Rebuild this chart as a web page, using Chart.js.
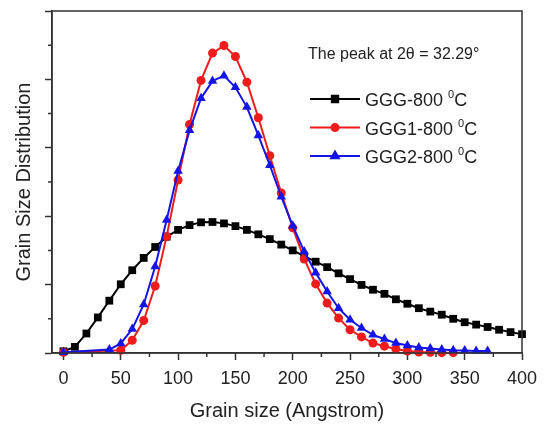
<!DOCTYPE html>
<html>
<head>
<meta charset="utf-8">
<script src="https://cdn.jsdelivr.net/npm/chart.js@4.4.1/dist/chart.umd.min.js"></script>
<style>
  html, body { margin: 0; padding: 0; background: #fff; }
  #wrap { width: 548px; height: 425px; }
</style>
</head>
<body>
<div id="wrap"><canvas id="chart"></canvas></div>
<script>
// grain size (Angstrom) and distribution values
const blackX = [0, 10, 20, 30, 40, 50, 60, 70, 80, 90, 100, 110, 120, 130, 140, 150, 160, 170, 180, 190, 200,
  210, 220, 230, 240, 250, 260, 270, 280, 290, 300, 310, 320, 330, 340, 350, 360, 370, 380, 390, 400];
const blackY = [0.05, 0.18, 0.57, 1.04, 1.53, 2.01, 2.42, 2.78, 3.1, 3.4, 3.6, 3.74, 3.82, 3.83, 3.79, 3.71, 3.6, 3.47, 3.33, 3.17, 3.0,
  2.83, 2.67, 2.51, 2.33, 2.16, 1.99, 1.85, 1.73, 1.57, 1.44, 1.31, 1.21, 1.12, 1.0, 0.9, 0.83, 0.76, 0.68, 0.61, 0.55];

const redX = [0, 50, 60, 70, 80, 90, 100, 110, 120, 130, 140, 150, 160, 170, 180, 190, 200,
  210, 220, 230, 240, 250, 260, 270, 280, 290, 300, 310, 320, 330, 340];
const redY = [0.02, 0.08, 0.37, 0.95, 1.96, 3.41, 5.06, 6.68, 7.97, 8.77, 8.99, 8.67, 7.92, 6.88, 5.77, 4.68, 3.66,
  2.75, 2.02, 1.46, 1.02, 0.68, 0.47, 0.29, 0.2, 0.12, 0.06, 0.03, 0.02, 0.01, 0.01];

const blueX = [0, 40, 50, 60, 70, 80, 90, 100, 110, 120, 130, 140, 150, 160, 170, 180, 190, 200,
  210, 220, 230, 240, 250, 260, 270, 280, 290, 300, 310, 320, 330, 340, 350, 360, 370];
const blueY = [0.02, 0.1, 0.28, 0.7, 1.42, 2.53, 3.89, 5.32, 6.51, 7.45, 7.95, 8.11, 7.77, 7.19, 6.36, 5.49, 4.57, 3.72,
  2.97, 2.35, 1.8, 1.31, 0.97, 0.73, 0.53, 0.41, 0.29, 0.22, 0.16, 0.13, 0.1, 0.08, 0.07, 0.06, 0.06];

const seriesNames = ["GGG-800", "GGG1-800", "GGG2-800"];
const tempSup = "0";
const tempUnit = "C";
const peakNote = "The peak at 2\u03B8 = 32.29\u00B0";

const xMinorTicks = [25, 75, 125, 175, 225, 275, 325, 375];
const yMinorTicks = [1, 3, 5, 7, 9];

const FONT = "'Liberation Sans', Arial, sans-serif";
const AXIS = "#333";

function pts(xs, ys) {
  return xs.map(function (x, i) { return { x: x, y: ys[i] }; });
}

// frame, minor ticks, note and legend
const extras = {
  id: "extras",
  afterDraw: function (chart) {
    const ctx = chart.ctx;
    const a = chart.chartArea;
    const xs = chart.scales.x;
    const ys = chart.scales.y;
    ctx.save();
    ctx.strokeStyle = AXIS;
    ctx.lineWidth = 1.5;
    ctx.strokeRect(a.left, a.top, a.right - a.left, a.bottom - a.top);

    ctx.beginPath();
    xMinorTicks.forEach(function (v) {
      const px = xs.getPixelForValue(v);
      ctx.moveTo(px, a.bottom);
      ctx.lineTo(px, a.bottom + 4);
    });
    yMinorTicks.forEach(function (v) {
      const py = ys.getPixelForValue(v);
      ctx.moveTo(a.left, py);
      ctx.lineTo(a.left - 4, py);
    });
    ctx.stroke();

    ctx.fillStyle = "#222";
    ctx.textBaseline = "alphabetic";
    ctx.font = "16px " + FONT;
    ctx.fillText(peakNote, a.left + 256, a.top + 48);

    chart.data.datasets.forEach(function (ds, i) {
      const cy = a.top + 88 + i * 28.5;
      const lx = a.left + 258;
      ctx.strokeStyle = ds.borderColor;
      ctx.lineWidth = 2;
      ctx.beginPath();
      ctx.moveTo(lx, cy);
      ctx.lineTo(lx + 50, cy);
      ctx.stroke();
      ctx.fillStyle = ds.borderColor;
      Chart.helpers.drawPoint(ctx, {
        pointStyle: ds.pointStyle,
        radius: ds.pointRadius - 1,
        rotation: 0,
        borderWidth: 1
      }, lx + 25, cy);

      ctx.fillStyle = "#222";
      ctx.font = "18px " + FONT;
      let tx = lx + 55;
      const base = cy + 7;
      const name = seriesNames[i] + " ";
      ctx.fillText(name, tx, base);
      tx += ctx.measureText(name).width;
      ctx.font = "11px " + FONT;
      ctx.fillText(tempSup, tx, base - 8);
      tx += ctx.measureText(tempSup).width;
      ctx.font = "18px " + FONT;
      ctx.fillText(tempUnit, tx, base);
    });
    ctx.restore();
  }
};

const ctx = document.getElementById("chart").getContext("2d");
const myChart = new Chart(ctx, {
  type: "line",
  data: {
    datasets: [
      {
        label: seriesNames[0],
        data: pts(blackX, blackY),
        borderColor: "#000000",
        backgroundColor: "#000000",
        borderWidth: 2,
        pointStyle: "rect",
        pointRadius: 5.5,
        pointBorderWidth: 0,
        order: 3,
        clip: false,
      },
      {
        label: seriesNames[1],
        data: pts(redX, redY),
        borderColor: "#ee1c1c",
        backgroundColor: "#ee1c1c",
        borderWidth: 2,
        pointStyle: "circle",
        pointRadius: 4.5,
        pointBorderWidth: 0,
        order: 2,
        clip: false,
      },
      {
        label: seriesNames[2],
        data: pts(blueX, blueY),
        borderColor: "#1414e6",
        backgroundColor: "#1414e6",
        borderWidth: 2,
        pointStyle: "triangle",
        pointRadius: 5.5,
        pointBorderWidth: 0,
        order: 1,
        clip: false,
      },
    ],
  },
  options: {
    responsive: true,
    maintainAspectRatio: false,
    animation: false,
    layout: {
      padding: { left: 0, right: 26, top: 11, bottom: 0 }
    },
    plugins: {
      legend: { display: false },
      tooltip: { enabled: false }
    },
    elements: {
      line: { tension: 0 }
    },
    scales: {
      x: {
        type: "linear",
        min: -10,
        max: 400,
        afterFit: function (s) { s.height = 72; },
        ticks: {
          stepSize: 50,
          includeBounds: false,
          color: "#222",
          padding: 8,
          font: { size: 18, family: FONT },
        },
        grid: {
          drawOnChartArea: false,
          tickLength: 7,
          tickWidth: 1.5,
          tickColor: AXIS,
        },
        border: { color: AXIS, width: 1.5 },
        title: {
          display: true,
          text: "Grain size (Angstrom)",
          color: "#222",
          font: { size: 20, family: FONT },
          padding: { top: 0, bottom: 2 },
        },
      },
      y: {
        min: 0,
        max: 10,
        afterFit: function (s) { s.width = 52; },
        ticks: {
          stepSize: 2,
          display: false,
        },
        grid: {
          drawOnChartArea: false,
          tickLength: 7,
          tickWidth: 1.5,
          tickColor: AXIS,
        },
        border: { color: AXIS, width: 1.5 },
        title: {
          display: true,
          text: "Grain Size Distribution",
          color: "#222",
          font: { size: 20, family: FONT },
          padding: { top: 12, bottom: 0 },
        },
      },
    },
  },
  plugins: [extras],
});
</script>
</body>
</html>
